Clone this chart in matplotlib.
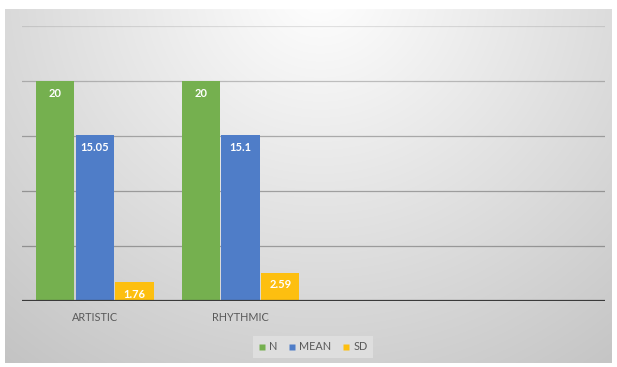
import numpy as np
import matplotlib
matplotlib.use("Agg")
import matplotlib.pyplot as plt
from matplotlib.lines import Line2D

categories = ["ARTISTIC", "RHYTHMIC"]
series_names = ["N", "MEAN", "SD"]
n_values = [20, 20]
mean_values = [15.05, 15.1]
sd_values = [1.76, 2.59]
n_labels = ["20", "20"]
mean_labels = ["15.05", "15.1"]
sd_labels = ["1.76", "2.59"]
colors = ["#75B04F", "#4F7DC8", "#FDBF10"]

plt.rcParams['font.family'] = ['Lato', 'DejaVu Sans']

W, H = 617, 367
fig = plt.figure(figsize=(W / 100, H / 100), dpi=100)
fig.patch.set_facecolor("white")

# background radial gradient
bx0, by0, bx1, by1 = 5, 9, 612, 363
bg = fig.add_axes([bx0 / W, 1 - by1 / H, (bx1 - bx0) / W, (by1 - by0) / H])
yy, xx = np.mgrid[by0:by1, bx0:bx1]
r = np.sqrt(((xx - 320) / 1.05) ** 2 + (yy + 10) ** 2)
v = 255 - 60 * np.clip(r / 480, 0, 1.2)
v = np.clip(v, 0, 255) / 255
bg.imshow(np.dstack([v, v, v]), aspect="auto", interpolation="bilinear")
bg.axis("off")

# main axes
x0, x1, ytop, ybot = 22, 605, 26, 301
ax = fig.add_axes([x0 / W, 1 - ybot / H, (x1 - x0) / W, (ybot - ytop) / H])
ax.patch.set_alpha(0)
ax.set_xlim(-0.5, 3.5)
ax.set_ylim(0, 25)

x = np.arange(len(categories))
bw = 0.272
series = [(n_values, n_labels), (mean_values, mean_labels), (sd_values, sd_labels)]
for i, ((vals, labs), c, name) in enumerate(zip(series, colors, series_names)):
    pos = x + (i - 1) * bw
    ax.bar(pos, vals, width=bw * 0.97, color=c, edgecolor="none", zorder=3, label=name)
    for px, val, lab in zip(pos, vals, labs):
        ax.annotate(lab, (px, val), xytext=(0, -5), textcoords="offset points",
                    ha="center", va="top", color="white", fontsize=8,
                    fontweight="bold", zorder=4)

for gy, a in [(5, 0.3), (10, 0.3), (15, 0.28), (20, 0.22), (25, 0.1)]:
    ax.axhline(gy, color="black", alpha=a, lw=0.9, zorder=1)
ax.axhline(0, color="#3a3a3a", lw=1.6, zorder=5)

for s in ax.spines.values():
    s.set_visible(False)
ax.set_yticks([])
ax.set_xticks(x)
ax.set_xticklabels(categories, fontsize=7.8, color="#595959")
ax.tick_params(axis="x", length=0, pad=8)

handles = [Line2D([0], [0], marker="s", color="none", markerfacecolor=c,
                  markeredgecolor="none", markersize=4.5) for c in colors]
leg = fig.legend(handles, series_names, loc="center", bbox_to_anchor=(313 / W, 1 - 347 / H),
                 ncol=3, frameon=True, fontsize=7.8, handlelength=0.7, handletextpad=0.3,
                 columnspacing=1.0, borderpad=0.5, fancybox=False)
leg.get_frame().set_facecolor("#e4e4e4")
leg.get_frame().set_edgecolor("none")
leg.get_frame().set_alpha(0.7)
for t in leg.get_texts():
    t.set_color("#595959")

fig.savefig("out.png", dpi=100)
